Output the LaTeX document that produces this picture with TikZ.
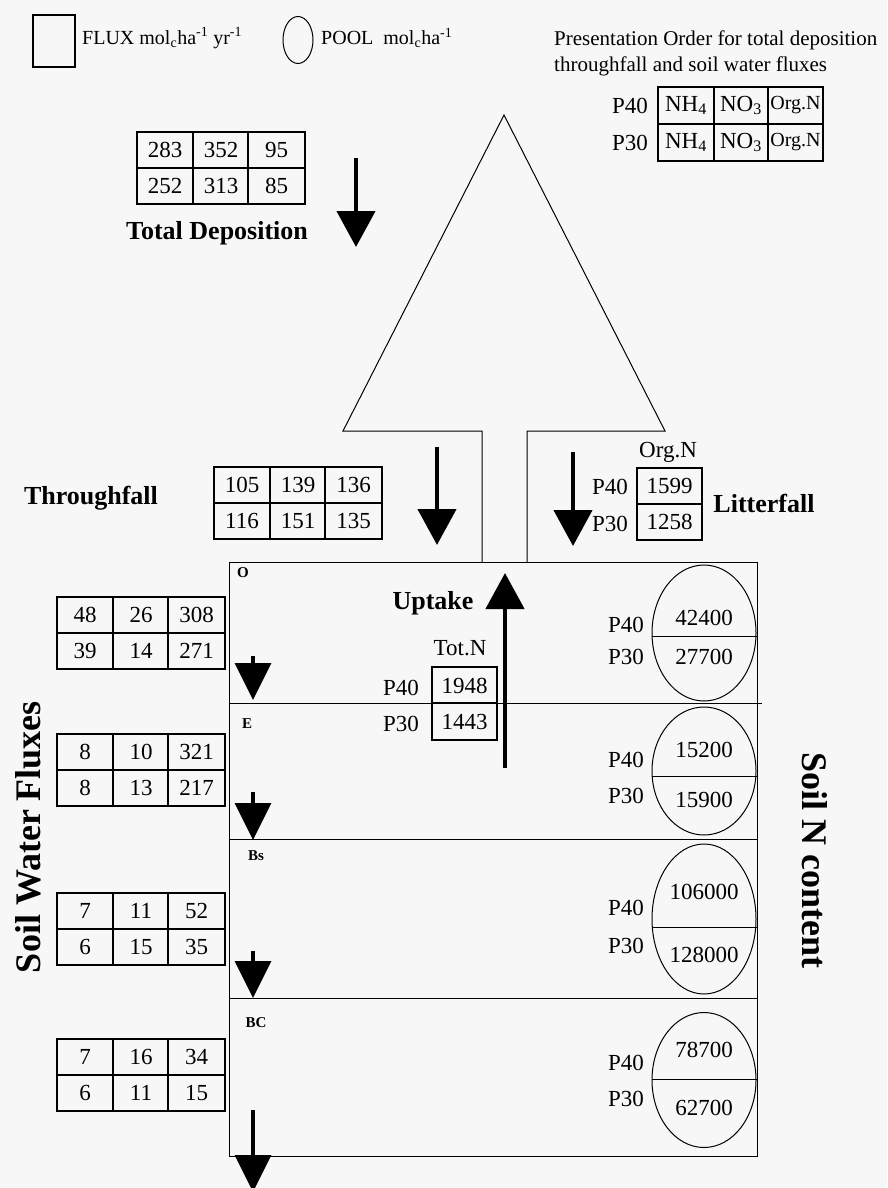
\documentclass[tikz,border=0pt]{standalone}
\usepackage{fontspec}
\setmainfont{Liberation Serif}
\usetikzlibrary{arrows.meta,shapes.geometric}
\definecolor{paper}{RGB}{247,247,247}

\begin{document}
\begin{tikzpicture}[x=1pt,y=-1pt,
    tabline/.style={line width=1.1pt},
    num/.style={inner sep=0pt,font=\fontsize{23}{26}\selectfont},
    small/.style={inner sep=0pt,font=\fontsize{21}{24}\selectfont},
    lbl/.style={inner sep=0pt,font=\fontsize{26}{30}\selectfont\bfseries},
    side/.style={inner sep=0pt,font=\fontsize{36}{40}\selectfont\bfseries},
    hz/.style={inner sep=0pt,font=\fontsize{15}{18}\selectfont\bfseries},
    pool/.style={draw,ellipse,line width=1pt,minimum width=104pt,inner sep=0pt},
    flow/.style={line width=4.5pt,-{Triangle[width=38pt,length=36pt]}},
    drip/.style={line width=3.5pt,-{Triangle[width=36pt,length=37pt]}}]

  \useasboundingbox (0,0) rectangle (887,1188);
  \fill[paper] (0,0) rectangle (887,1188);

  % key
  \node[draw,line width=2.5pt,minimum width=42pt,minimum height=52pt,inner sep=0pt] (fluxkey) at (54,41) {};
  \node[small,anchor=west,font=\fontsize{20}{22}\selectfont] (fluxtxt) at (82,38) {FLUX mol\textsubscript{c}ha\textsuperscript{-1} yr\textsuperscript{-1}};
  \node[draw,ellipse,line width=1pt,minimum width=30pt,minimum height=47pt,inner sep=0pt] (poolkey) at (298,40) {};
  \node[small,anchor=west,font=\fontsize{20}{22}\selectfont] (pooltxt) at (321,38) {POOL\ \ mol\textsubscript{c}ha\textsuperscript{-1}};

  % presentation order
  \node[small,anchor=west] (order1) at (554,40) {Presentation Order for total deposition};
  \node[small,anchor=west] (order2) at (554,66) {throughfall and soil water fluxes};
  \draw[tabline] (658,87) rectangle (823,161);
  \draw[tabline] (658,124) -- (823,124) (714,87) -- (714,161) (768,87) -- (768,161);
  \foreach \row/\yy in {P40/105.5,P30/142.5}{
    \node[num] (ord-\row) at (630,\yy) {\row};
    \node[num] (ord-\row-nh) at (686,\yy) {NH\textsubscript{4}};
    \node[num] (ord-\row-no) at (741,\yy) {NO\textsubscript{3}};
    \node[small,font=\fontsize{20}{22}\selectfont] (ord-\row-org) at (795.5,\yy) {Org.N};
  }

  % tree
  \draw[line width=1pt] (482,562) -- (482,431) -- (343,431) -- (504,115)
    -- (665,431) -- (527,431) -- (527,562);

  % flux tables
  \foreach \nm/\x/\y/\a/\b/\c/\d/\e/\f in {
      td/137/132/283/352/95/252/313/85,
      tf/214/467/105/139/136/116/151/135,
      sw1/57/597/48/26/308/39/14/271,
      sw2/57/734/8/10/321/8/13/217,
      sw3/57/893/7/11/52/6/15/35,
      sw4/57/1039/7/16/34/6/11/15}{
    \draw[tabline] (\x,\y) rectangle ++(168,72);
    \draw[tabline] (\x,\y+36) -- ++(168,0) (\x+56,\y) -- ++(0,72) (\x+111,\y) -- ++(0,72);
    \node[num] (\nm-a) at (\x+28,\y+18) {\a};
    \node[num] (\nm-b) at (\x+84,\y+18) {\b};
    \node[num] (\nm-c) at (\x+139.5,\y+18) {\c};
    \node[num] (\nm-d) at (\x+28,\y+54) {\d};
    \node[num] (\nm-e) at (\x+84,\y+54) {\e};
    \node[num] (\nm-f) at (\x+139.5,\y+54) {\f};
  }

  % deposition and throughfall
  \node[lbl] (tdlbl) at (217,233) {Total Deposition};
  \coordinate (tdtop) at (356,158);
  \coordinate (tdtip) at (356,247);
  \draw[flow] (tdtop) -- (tdtip);
  \node[lbl] (tflbl) at (91,498) {Throughfall};
  \coordinate (tftop) at (437,447);
  \coordinate (tftip) at (437,545);
  \draw[flow] (tftop) -- (tftip);

  % litterfall
  \coordinate (lftop) at (573,452);
  \coordinate (lftip) at (573,546);
  \draw[flow] (lftop) -- (lftip);
  \node[num] (lforg) at (668,452) {Org.N};
  \draw[tabline] (637,468) rectangle (702,540);
  \draw[tabline] (637,504) -- (702,504);
  \node[num] (lf40) at (669.5,486) {1599};
  \node[num] (lf30) at (669.5,522) {1258};
  \node[num] (lfp40) at (610,487) {P40};
  \node[num] (lfp30) at (610,524) {P30};
  \node[lbl] (lflbl) at (764,503) {Litterfall};

  % soil profile
  \draw[line width=1pt] (229,562) rectangle (757,1156);
  \draw[line width=1pt] (229,703) -- (762,703) (229,839) -- (757,839) (229,998) -- (757,998);
  \node[hz] (hzo) at (243,573) {O};
  \node[hz] (hze) at (247,724) {E};
  \node[hz] (hzbs) at (256,856) {Bs};
  \node[hz] (hzbc) at (256,1023) {BC};

  % uptake
  \coordinate (upbot) at (505,768);
  \coordinate (uptip) at (505,573);
  \draw[flow] (upbot) -- (uptip);
  \node[lbl] (uplbl) at (433,603) {Uptake};
  \node[num] (uptot) at (460,648) {Tot.N};
  \draw[tabline] (432,667) rectangle (497,740);
  \draw[tabline] (432,703) -- (497,703);
  \node[num] (up40) at (464.5,686) {1948};
  \node[num] (up30) at (464.5,722) {1443};
  \node[num] (upp40) at (401,688) {P40};
  \node[num] (upp30) at (401,724) {P30};

  % pools
  \foreach \nm/\cy/\h/\dv/\va/\vb/\ya/\yb/\pa/\pb in {
      o/633/136/3/42400/27700/618/657/625/657,
      e/771/128/5/15200/15900/750/800/760/796,
      bs/919/150/8/106000/128000/892/955/908/946,
      bc/1080/135/-1/78700/62700/1050/1108/1063/1099}{
    \node[pool,minimum height=\h pt] (\nm-pool) at (704,\cy) {};
    \draw[line width=1pt] ([yshift=-\dv pt]\nm-pool.west) -- ([yshift=-\dv pt]\nm-pool.east);
    \node[num] (\nm-v40) at (704,\ya) {\va};
    \node[num] (\nm-v30) at (704,\yb) {\vb};
    \node[num] (\nm-p40) at (626,\pa) {P40};
    \node[num] (\nm-p30) at (626,\pb) {P30};
  }

  % soil water
  \foreach \n/\ya/\yb in {1/656/700,2/792/840,3/951/998,4/1110/1192}{
    \coordinate (sw\n top) at (253,\ya);
    \coordinate (sw\n tip) at (253,\yb);
    \draw[drip] (sw\n top) -- (sw\n tip);
  }
  \node[side,rotate=90] (swlbl) at (28,837) {Soil Water Fluxes};
  \node[side,rotate=-90] (soilnlbl) at (815,860) {Soil N content};
\end{tikzpicture}
\end{document}
